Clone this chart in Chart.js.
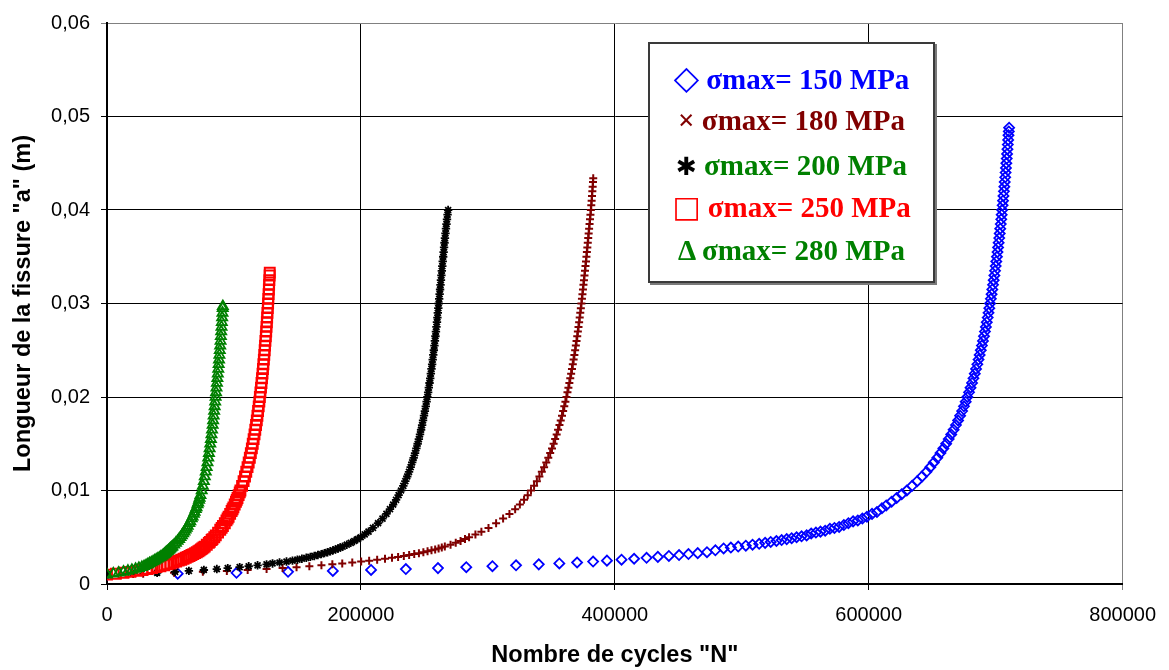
<!DOCTYPE html>
<html>
<head>
<meta charset="utf-8">
<title>Longueur de la fissure</title>
<script src="https://cdn.jsdelivr.net/npm/chart.js@4.4.1/dist/chart.umd.min.js"></script>
<style>
  body { margin: 0; background: #fff; }
  #cadre { position: relative; width: 1169px; height: 670px; }
  #legende {
    position: absolute; left: 648px; top: 42px; width: 283px; height: 237px;
    border: 2px solid #3a3a3a; box-shadow: 2px 2px 0 #7a7a7a; background: #fff;
    font-family: "Liberation Serif", "Times New Roman", serif; font-weight: bold; font-size: 29px;
  }
  .ligne { position: absolute; left: 0; width: 100%; text-align: center; height: 30px; line-height: 30px; white-space: nowrap; }
  .sym { font-family: "DejaVu Sans", sans-serif; font-weight: normal; }
</style>
</head>
<body>
<div id="cadre">
  <canvas id="courbes" width="1169" height="670"></canvas>
  <div id="legende">
    <div class="ligne" style="top:19px;color:#0000ff"><span class="sym" style="font-size:33px">◇</span> σmax= 150 MPa</div>
    <div class="ligne" style="top:61px;color:#800000">× σmax= 180 MPa</div>
    <div class="ligne" style="top:106px;color:#008000"><span class="sym" style="color:#000;font-size:25px">✱</span> σmax= 200 MPa</div>
    <div class="ligne" style="top:148px;color:#ff0000"><span class="sym" style="font-size:30px">□</span> σmax= 250 MPa</div>
    <div class="ligne" style="top:191px;color:#008000">Δ σmax= 280 MPa</div>
  </div>
</div>
<script>
// [N cycles, a (m)]
var sigma150 = [[0,0.0010],[55700,0.0011],[102000,0.0012],[142600,0.0013],[177900,0.0014],[208000,0.0015],[235400,0.0016],[260700,0.0017],[283000,0.0018],[303600,0.0019],[322200,0.0020],[340100,0.0021],[356300,0.0022],[370300,0.0023],[382900,0.0024],[393800,0.0025],[405300,0.0026],[415200,0.0027],[425000,0.0028],[433900,0.0029],[442600,0.0030],[450600,0.0031],[458000,0.0032],[465300,0.0033],[472600,0.0034],[479200,0.0036],[485700,0.0038],[491400,0.0039],[497200,0.0040],[503200,0.0041],[508500,0.0042],[513700,0.0043],[518400,0.0044],[522800,0.0045],[527300,0.0046],[531400,0.0047],[535400,0.0048],[539300,0.0049],[543200,0.0050],[547100,0.0051],[551100,0.0052],[554700,0.0054],[558400,0.0055],[562000,0.0056],[565700,0.0057],[569400,0.0059],[573000,0.0060],[576700,0.0061],[580400,0.0063],[584000,0.0065],[587700,0.0067],[591400,0.0068],[595000,0.0070],[598600,0.0072],[602600,0.0075],[606500,0.0077],[610400,0.0081],[613800,0.0084],[618000,0.0088],[622000,0.0092],[626000,0.0096],[630000,0.0100],[634200,0.0105],[638200,0.0110],[642000,0.0115],[645500,0.0120],[648500,0.0125],[651300,0.0130],[654000,0.0135],[656500,0.0140],[658800,0.0145],[661000,0.0150],[663000,0.0155],[665000,0.0160],[666900,0.0165],[668700,0.0170],[670400,0.0175],[672000,0.0180],[673550,0.0185],[675000,0.0190],[676400,0.0195],[677700,0.0200],[679000,0.0205],[680200,0.0210],[681400,0.0215],[682500,0.0220],[683550,0.0225],[684550,0.0230],[685550,0.0235],[686500,0.0240],[687400,0.0245],[688300,0.0250],[689150,0.0255],[690000,0.0260],[690800,0.0265],[691550,0.0270],[692300,0.0275],[693000,0.0280],[693700,0.0285],[694350,0.0290],[695000,0.0295],[695600,0.0300],[696200,0.0305],[696800,0.0310],[697350,0.0315],[697900,0.0320],[698450,0.0325],[699000,0.0330],[699500,0.0335],[700000,0.0340],[700500,0.0345],[701000,0.0350],[701450,0.0355],[701900,0.0360],[702350,0.0365],[702800,0.0370],[703200,0.0375],[703600,0.0380],[704000,0.0385],[704400,0.0390],[704750,0.0395],[705100,0.0400],[705450,0.0405],[705800,0.0410],[706150,0.0415],[706500,0.0420],[706850,0.0425],[707150,0.0430],[707500,0.0435],[707800,0.0440],[708100,0.0445],[708400,0.0450],[708700,0.0455],[709000,0.0460],[709300,0.0465],[709550,0.0470],[709850,0.0475],[710100,0.0480],[710350,0.0484],[710600,0.0488]];

var sigma180 = [[0,0.0010],[28500,0.0011],[52800,0.0012],[75500,0.0013],[94400,0.0014],[110800,0.0015],[125700,0.0016],[138300,0.0017],[149300,0.0018],[159400,0.0019],[168900,0.0020],[177500,0.0021],[185300,0.0022],[193200,0.0023],[200200,0.0024],[206500,0.0025],[212800,0.0026],[219000,0.0027],[224500,0.0028],[229300,0.0029],[233800,0.0030],[238000,0.0031],[242000,0.0032],[245700,0.0033],[249200,0.0034],[252500,0.0035],[255600,0.0036],[258500,0.0037],[261200,0.0038],[263700,0.0039],[266100,0.0040],[270600,0.0042],[274700,0.0044],[278500,0.0046],[282000,0.0048],[285200,0.0050],[290200,0.0053],[294900,0.0056],[300500,0.0060],[306500,0.0065],[312000,0.0070],[317000,0.0075],[321500,0.0080],[325200,0.0085],[328500,0.0090],[331400,0.0095],[334000,0.0100],[336400,0.0105],[338600,0.0110],[340600,0.0115],[342500,0.0120],[344300,0.0125],[346000,0.0130],[347600,0.0135],[349100,0.0140],[350500,0.0145],[351800,0.0150],[353000,0.0155],[354200,0.0160],[355300,0.0165],[356400,0.0170],[357400,0.0175],[358400,0.0180],[359300,0.0185],[360200,0.0190],[361100,0.0195],[361900,0.0200],[362700,0.0205],[363450,0.0210],[364200,0.0215],[364900,0.0220],[365600,0.0225],[366250,0.0230],[366900,0.0235],[367550,0.0240],[368150,0.0245],[368750,0.0250],[369300,0.0255],[369850,0.0260],[370400,0.0265],[370900,0.0270],[371400,0.0275],[371900,0.0280],[372350,0.0285],[372800,0.0290],[373250,0.0295],[373700,0.0300],[374100,0.0305],[374500,0.0310],[374900,0.0315],[375300,0.0320],[375700,0.0325],[376100,0.0330],[376500,0.0335],[376900,0.0340],[377300,0.0345],[377650,0.0350],[378000,0.0355],[378350,0.0360],[378700,0.0365],[379050,0.0370],[379400,0.0375],[379750,0.0380],[380100,0.0385],[380450,0.0390],[380800,0.0395],[381150,0.0400],[381450,0.0405],[381750,0.0410],[382050,0.0415],[382300,0.0420],[382550,0.0425],[382800,0.0430],[383000,0.0434]];

var sigma200 = [[0,0.0010],[20600,0.0011],[39500,0.0012],[53600,0.0013],[64500,0.0014],[76300,0.0015],[86500,0.0016],[95100,0.0017],[104500,0.0018],[111600,0.0019],[118600,0.0020],[125700,0.0021],[130400,0.0022],[135900,0.0023],[141400,0.0024],[146100,0.0025],[150000,0.0026],[153500,0.0027],[157000,0.0028],[160200,0.0029],[163300,0.0030],[166100,0.0031],[168800,0.0032],[171300,0.0033],[173700,0.0034],[175900,0.0035],[178000,0.0036],[180000,0.0037],[182000,0.0038],[183800,0.0039],[185600,0.0040],[188900,0.0042],[192000,0.0044],[194800,0.0046],[197400,0.0048],[199800,0.0050],[203000,0.0053],[206000,0.0056],[209500,0.0060],[213500,0.0065],[217000,0.0070],[220100,0.0075],[222900,0.0080],[225400,0.0085],[227700,0.0090],[229700,0.0095],[231600,0.0100],[233400,0.0105],[235000,0.0110],[236500,0.0115],[237900,0.0120],[239200,0.0125],[240400,0.0130],[241550,0.0135],[242650,0.0140],[243700,0.0145],[244700,0.0150],[245650,0.0155],[246550,0.0160],[247400,0.0165],[248200,0.0170],[248950,0.0175],[249700,0.0180],[250400,0.0185],[251100,0.0190],[251750,0.0195],[252350,0.0200],[252950,0.0205],[253500,0.0210],[254050,0.0215],[254600,0.0220],[255100,0.0225],[255600,0.0230],[256100,0.0235],[256550,0.0240],[257000,0.0245],[257450,0.0250],[257900,0.0255],[258300,0.0260],[258700,0.0265],[259100,0.0270],[259500,0.0275],[259900,0.0280],[260250,0.0285],[260600,0.0290],[260950,0.0295],[261300,0.0300],[261650,0.0305],[262000,0.0310],[262350,0.0315],[262700,0.0320],[263050,0.0325],[263400,0.0330],[263750,0.0335],[264100,0.0340],[264450,0.0345],[264800,0.0350],[265150,0.0355],[265500,0.0360],[265850,0.0365],[266200,0.0370],[266600,0.0375],[267000,0.0380],[267400,0.0385],[267800,0.0390],[268250,0.0395],[268700,0.0400]];

var sigma250 = [[0,0.0010],[7000,0.0011],[13000,0.0012],[18500,0.0013],[23500,0.0014],[28000,0.0015],[32000,0.0016],[35600,0.0017],[39000,0.0018],[42100,0.0019],[45000,0.0020],[47600,0.0021],[50000,0.0022],[52300,0.0023],[54500,0.0024],[56500,0.0025],[58500,0.0026],[60300,0.0027],[62000,0.0028],[63500,0.0029],[65000,0.0030],[66500,0.0031],[68000,0.0032],[69400,0.0033],[70700,0.0034],[72000,0.0035],[73000,0.0036],[74000,0.0037],[75000,0.0038],[76000,0.0039],[77000,0.0040],[78600,0.0042],[80200,0.0044],[81000,0.0045],[82400,0.0047],[83100,0.0048],[84500,0.0050],[85700,0.0052],[87500,0.0055],[89200,0.0058],[90300,0.0060],[91300,0.0062],[92800,0.0065],[94100,0.0068],[95000,0.0070],[95800,0.0072],[97000,0.0075],[98150,0.0078],[98900,0.0080],[99600,0.0082],[100600,0.0085],[101550,0.0088],[102200,0.0090],[102800,0.0092],[103700,0.0095],[104550,0.0098],[105100,0.0100],[106400,0.0105],[107600,0.0110],[108700,0.0115],[109700,0.0120],[110700,0.0125],[111600,0.0130],[112500,0.0135],[113300,0.0140],[114100,0.0145],[114800,0.0150],[115500,0.0155],[116200,0.0160],[116800,0.0165],[117400,0.0170],[118000,0.0175],[118500,0.0180],[119000,0.0185],[119500,0.0190],[120000,0.0195],[120400,0.0200],[120850,0.0205],[121300,0.0210],[121700,0.0215],[122100,0.0220],[122500,0.0225],[122850,0.0230],[123200,0.0235],[123550,0.0240],[123900,0.0245],[124200,0.0250],[124500,0.0255],[124800,0.0260],[125100,0.0265],[125400,0.0270],[125650,0.0275],[125900,0.0280],[126150,0.0285],[126400,0.0290],[126650,0.0295],[126900,0.0300],[127100,0.0305],[127300,0.0310],[127500,0.0315],[127700,0.0320],[127900,0.0325],[128100,0.0330],[128200,0.0333]];

var sigma280 = [[0,0.0010],[5000,0.0011],[9200,0.0012],[13000,0.0013],[16500,0.0014],[19600,0.0015],[22500,0.0016],[25100,0.0017],[27500,0.0018],[29200,0.0019],[30800,0.0020],[32200,0.0021],[33500,0.0022],[34900,0.0023],[36300,0.0024],[37550,0.0025],[38800,0.0026],[40000,0.0027],[41200,0.0028],[42350,0.0029],[43500,0.0030],[44350,0.0031],[45200,0.0032],[46000,0.0033],[46800,0.0034],[47700,0.0035],[48500,0.0036],[49300,0.0037],[50000,0.0038],[50800,0.0039],[51500,0.0040],[52900,0.0042],[54300,0.0044],[55600,0.0046],[56800,0.0048],[57900,0.0050],[59000,0.0052],[60000,0.0054],[61000,0.0056],[61900,0.0058],[62800,0.0060],[63600,0.0062],[64800,0.0065],[65600,0.0067],[66700,0.0070],[67400,0.0072],[68400,0.0075],[69000,0.0077],[69900,0.0080],[70500,0.0082],[71300,0.0085],[71800,0.0087],[72500,0.0090],[72950,0.0092],[73600,0.0095],[74600,0.0100],[75500,0.0105],[76300,0.0110],[77050,0.0115],[77800,0.0120],[78500,0.0125],[79150,0.0130],[79750,0.0135],[80300,0.0140],[80850,0.0145],[81350,0.0150],[81850,0.0155],[82300,0.0160],[82750,0.0165],[83200,0.0170],[83600,0.0175],[84000,0.0180],[84400,0.0185],[84800,0.0190],[85200,0.0195],[85550,0.0200],[85900,0.0205],[86250,0.0210],[86600,0.0215],[86950,0.0220],[87300,0.0225],[87650,0.0230],[87950,0.0235],[88250,0.0240],[88550,0.0245],[88850,0.0250],[89150,0.0255],[89450,0.0260],[89700,0.0265],[89950,0.0270],[90200,0.0275],[90450,0.0280],[90700,0.0285],[90950,0.0290],[91150,0.0295],[91250,0.0297]];

var xTicks = [0, 200000, 400000, 600000, 800000];
var yTicks = [0, 0.01, 0.02, 0.03, 0.04, 0.05, 0.06];

function points(serie) {
  return serie.map(function (p) { return { x: p[0], y: p[1] }; });
}

var police = "'Liberation Sans', Arial, sans-serif";

var courbes = new Chart(document.getElementById('courbes').getContext('2d'), {
  type: 'scatter',
  data: {
    datasets: [
      { label: 'σmax= 150 MPa', data: points(sigma150), pointStyle: 'rectRot', radius: 5,
        borderColor: '#0000ff', backgroundColor: 'rgba(0,0,0,0)', borderWidth: 1.8, order: 5 },
      { label: 'σmax= 180 MPa', data: points(sigma180), pointStyle: 'cross', radius: 4,
        borderColor: '#800000', backgroundColor: '#800000', borderWidth: 2, order: 4 },
      { label: 'σmax= 200 MPa', data: points(sigma200), pointStyle: 'star', radius: 4.2,
        borderColor: '#000000', backgroundColor: '#000000', borderWidth: 1.8, order: 3 },
      { label: 'σmax= 250 MPa', data: points(sigma250), pointStyle: 'rect', radius: 7,
        borderColor: '#ff0000', backgroundColor: 'rgba(0,0,0,0)', borderWidth: 2, order: 2 },
      { label: 'σmax= 280 MPa', data: points(sigma280), pointStyle: 'triangle', radius: 5.8,
        borderColor: '#008000', backgroundColor: 'rgba(0,0,0,0)', borderWidth: 1.8, order: 1 }
    ]
  },
  options: {
    responsive: false,
    animation: false,
    devicePixelRatio: 1,
    events: [],
    layout: { padding: { top: 16, right: 43, left: 0, bottom: 0 } },
    plugins: { legend: { display: false }, tooltip: { enabled: false } },
    scales: {
      x: {
        type: 'linear', min: 0, max: 800000,
        afterBuildTicks: function (s) { s.ticks = xTicks.map(function (v) { return { value: v }; }); },
        afterFit: function (s) { s.height = 86; },
        border: { color: '#000', width: 2 },
        grid: {
          tickLength: 6,
          color: function (c) { return c.tick && c.tick.value === 800000 ? '#808080' : '#000'; }
        },
        ticks: {
          padding: 13, maxRotation: 0, autoSkip: false, color: '#000',
          font: { family: police, size: 20 },
          callback: function (v) { return String(v); }
        },
        title: {
          display: true, text: 'Nombre de cycles "N"', color: '#000',
          font: { family: police, size: 23.5, weight: 'bold' }, padding: { top: 0, bottom: 0 }
        }
      },
      y: {
        type: 'linear', min: 0, max: 0.06,
        afterBuildTicks: function (s) { s.ticks = yTicks.map(function (v) { return { value: v }; }); },
        afterFit: function (s) { s.width = 107; },
        border: { color: '#000', width: 2 },
        grid: {
          tickLength: 6,
          color: function (c) { return c.tick && Math.abs(c.tick.value - 0.06) < 1e-9 ? '#808080' : '#000'; }
        },
        ticks: {
          padding: 11, color: '#000',
          font: { family: police, size: 20 },
          callback: function (v) { return v === 0 ? '0' : v.toFixed(2).replace('.', ','); }
        },
        title: {
          display: true, text: 'Longueur de la fissure "a" (m)', color: '#000',
          font: { family: police, size: 23.5, weight: 'bold' }, padding: { top: 9, bottom: 0 }
        }
      }
    }
  }
});
</script>
</body>
</html>
